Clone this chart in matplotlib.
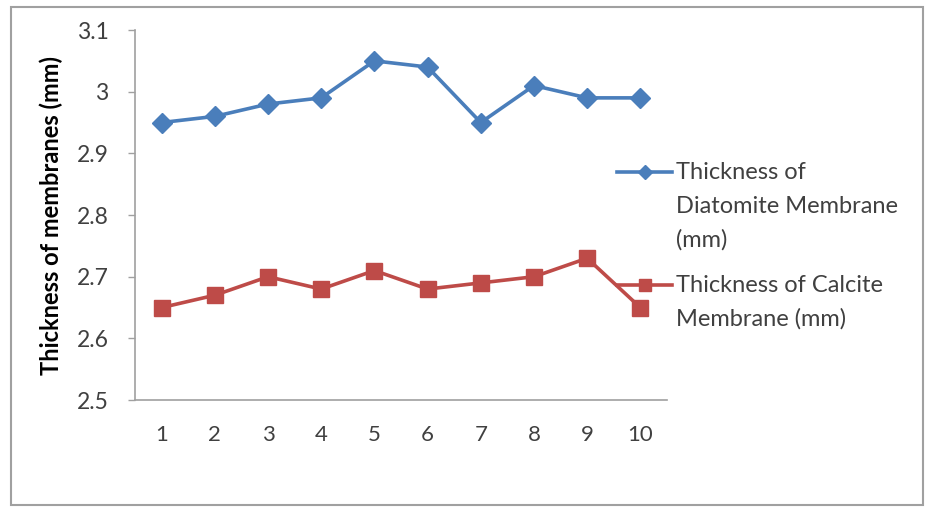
import matplotlib
matplotlib.use('Agg')
import matplotlib.pyplot as plt
from matplotlib.lines import Line2D
from matplotlib.patches import Rectangle

# data
samples = [1, 2, 3, 4, 5, 6, 7, 8, 9, 10]
diatomite = [2.95, 2.96, 2.98, 2.99, 3.05, 3.04, 2.95, 3.01, 2.99, 2.99]
calcite = [2.65, 2.67, 2.70, 2.68, 2.71, 2.68, 2.69, 2.70, 2.73, 2.65]
yticks = [2.5, 2.6, 2.7, 2.8, 2.9, 3.0, 3.1]
ytick_labels = ['2.5', '2.6', '2.7', '2.8', '2.9', '3', '3.1']
lab_dia = ['Thickness of', 'Diatomite Membrane', '(mm)']
lab_cal = ['Thickness of Calcite', 'Membrane (mm)']

blue = '#4a7ebb'
red = '#be4b48'
plt.rcParams['font.family'] = ['Lato', 'DejaVu Sans']

fig = plt.figure(figsize=(9.25, 5.09), dpi=100)
ax = fig.add_axes([0.146, 0.214, 0.575, 0.727])

x = list(range(len(samples)))
ax.plot(x, diatomite, color=blue, lw=2.6, marker='D', ms=10.5, zorder=3)
ax.plot(x, calcite, color=red, lw=2.6, marker='s', ms=12, zorder=3)

ax.set_xlim(-0.5, len(samples) - 0.5)
ax.set_ylim(2.5, 3.1)
ax.set_xticks(x)
ax.set_xticklabels([str(s) for s in samples])
ax.set_yticks(yticks)
ax.set_yticklabels(ytick_labels)
ax.tick_params(axis='x', length=0, pad=18, labelsize=16, labelcolor='#404040')
ax.tick_params(axis='y', length=5, width=1, color='#a0a0a0', pad=14,
               labelsize=16.5, labelcolor='#404040')
for s in ['top', 'right']:
    ax.spines[s].set_visible(False)
for s in ['left', 'bottom']:
    ax.spines[s].set_color('#a0a0a0')
    ax.spines[s].set_linewidth(1.2)
ax.set_ylabel('Thickness of membranes (mm)', fontsize=17, fontweight='bold',
              labelpad=10)

# legend drawn by hand so the key sits on the first text line
W, H = 925.0, 509.0
def fx(px):
    return px / W
def fy(py):
    return 1 - py / H

for py, col, mk, ms, lines in [(172, blue, 'D', 7, lab_dia), (285, red, 's', 9, lab_cal)]:
    fig.add_artist(Line2D([fx(617), fx(672)], [fy(py), fy(py)], color=col, lw=2.6))
    fig.add_artist(Line2D([fx(645)], [fy(py)], color=col, marker=mk, ms=ms))
    for i, t in enumerate(lines):
        fig.text(fx(676), fy(py + 7 + 34 * i), t, fontsize=17, color='#404040',
                 va='baseline', ha='left')

# outer frame
fig.add_artist(Rectangle((fx(11), fy(505)), fx(912), fy(7) - fy(505),
                         transform=fig.transFigure, fill=False, ec='#a0a0a0', lw=1.5))

fig.savefig('out.png', dpi=100)
